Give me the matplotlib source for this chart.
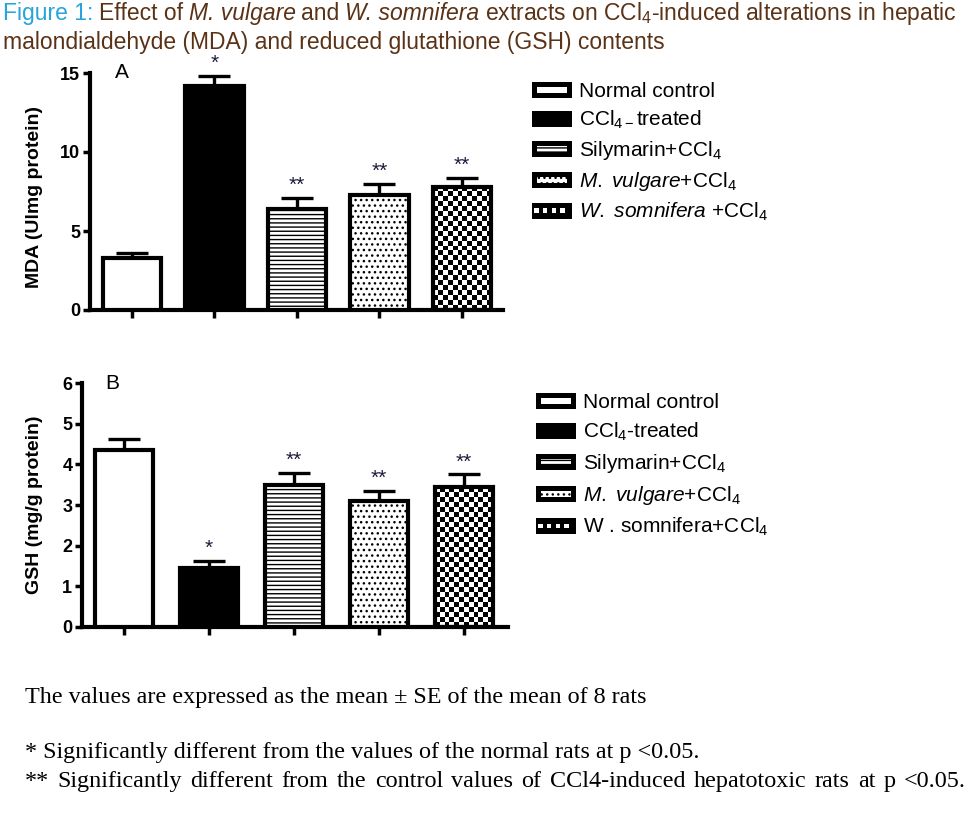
import matplotlib
matplotlib.use("Agg")
import matplotlib.pyplot as plt
import numpy as np
from matplotlib.patches import Rectangle
from matplotlib.legend_handler import HandlerBase
from matplotlib.offsetbox import TextArea, HPacker, VPacker, AnchoredOffsetbox

# ---------------- data ----------------
groups = ["Normal control", "CCl4-treated", "Silymarin+CCl4",
          "M. vulgare+CCl4", "W. somnifera+CCl4"]
mda_mean = [3.3, 14.2, 6.4, 7.3, 7.8]
mda_se = [0.28, 0.62, 0.72, 0.68, 0.56]
mda_sig = ["", "*", "**", "**", "**"]
gsh_mean = [4.35, 1.45, 3.5, 3.1, 3.45]
gsh_se = [0.28, 0.17, 0.29, 0.25, 0.31]
gsh_sig = ["", "*", "**", "**", "**"]
mda_ticks = [0, 5, 10, 15]
gsh_ticks = [0, 1, 2, 3, 4, 5, 6]
legend_a = ["Normal control", "CCl$_{4-}$treated", "Silymarin+CCl$_4$",
            "$\\mathit{M.\\ vulgare}$+CCl$_4$", "$\\mathit{W.\\ somnifera}$ +CCl$_4$"]
legend_b = ["Normal control", "CCl$_4$-treated", "Silymarin+CCl$_4$",
            "$\\mathit{M.\\ vulgare}$+CCl$_4$", "W . somnifera+CCl$_4$"]

plt.rcParams.update({
    "font.family": ["Liberation Sans", "DejaVu Sans"],
    "mathtext.fontset": "custom",
    "mathtext.rm": "Liberation Sans",
    "mathtext.it": "Liberation Sans:italic",
    "mathtext.bf": "Liberation Sans:bold",
    "hatch.linewidth": 1.0,
})

W, H = 977, 814
fig = plt.figure(figsize=(W / 100, H / 100), dpi=100)

facecolors = ["white", "black", "white", "white", "none"]
hatches = [None, None, "----", "...", None]


class HandlerChecker(HandlerBase):
    def create_artists(self, legend, orig_handle, xdescent, ydescent,
                       width, height, fontsize, trans):
        x0, y0 = -xdescent, -ydescent
        arts = [Rectangle((x0, y0), width, height, facecolor="black",
                          edgecolor="black", lw=3.6, transform=trans)]
        sq = height * 0.4
        ys = y0 + (height - sq) / 2
        n = int(width / sq)
        for k in range(n):
            if k % 2 == 0:
                arts.append(Rectangle((x0 + k * sq + (width - n * sq) / 2, ys), sq, sq,
                                      facecolor="white", lw=0, transform=trans))
        return arts


def panel(rect, means, ses, sig, ticks, ylabel, letter, letter_x, lab_x, lab_y,
          xlim, bw, legend_labels, leg_anchor, cell_px, lspace):
    ax = fig.add_axes(rect)
    x = np.arange(len(means))
    ax.set_xlim(*xlim)
    ax.set_ylim(ticks[0], ticks[-1])
    ax.errorbar(x, means, yerr=[np.zeros(len(means)), ses], fmt="none",
                ecolor="black", elinewidth=2.4, capsize=11.5, capthick=2.4, zorder=1)
    bars = []
    for i in range(len(means)):
        b = ax.bar(x[i], means[i], width=bw, facecolor=facecolors[i],
                   edgecolor="black", linewidth=3, hatch=hatches[i], zorder=3)[0]
        bars.append(b)
    # checkerboard fill for the last bar
    b = bars[-1]
    x0, wdt, hgt = b.get_x(), b.get_width(), b.get_height()
    p0 = ax.transData.transform((x0, 0))
    p1 = ax.transData.transform((x0 + wdt, hgt))
    nx = max(1, int(round((p1[0] - p0[0]) / cell_px)))
    ny = max(1, int(round((p1[1] - p0[1]) / cell_px)))
    chk = (np.add.outer(np.arange(ny), np.arange(nx)) % 2).astype(float)
    im = ax.imshow(chk, cmap="gray", extent=(x0, x0 + wdt, 0, hgt), aspect="auto",
                   interpolation="nearest", zorder=2, origin="lower")
    im.set_clip_path(b)
    ax.set_xlim(*xlim)
    ax.set_ylim(ticks[0], ticks[-1])

    for i in range(len(means)):
        if sig[i]:
            ax.annotate(sig[i], xy=(x[i], means[i] + ses[i]), xytext=(0, 2),
                        textcoords="offset points", ha="center", va="bottom",
                        fontsize=15, color="#1c1c3c")

    for s in ["top", "right"]:
        ax.spines[s].set_visible(False)
    for s in ["left", "bottom"]:
        ax.spines[s].set_linewidth(3)
    ax.set_yticks(ticks)
    ax.set_yticklabels([str(t) for t in ticks], fontsize=13, fontweight="bold")
    ax.set_xticks(x)
    ax.set_xticklabels([])
    ax.tick_params(axis="y", direction="out", length=5, width=2.5, pad=2)
    ax.tick_params(axis="x", direction="out", length=6, width=2.5)
    ax.set_ylabel(ylabel, fontsize=14, fontweight="bold")
    ax.yaxis.set_label_coords(lab_x, lab_y)
    ax.text(letter_x, 1.0, letter, transform=ax.transAxes, fontsize=15,
            ha="center", va="center")

    handles = []
    for i in range(len(means)):
        if i == len(means) - 1:
            handles.append(Rectangle((0, 0), 1, 1, facecolor="black"))
        else:
            handles.append(Rectangle((0, 0), 1, 1, facecolor=facecolors[i] if facecolors[i] != "none" else "white",
                                     edgecolor="black", lw=3.6, hatch=hatches[i]))
    fig.legend(handles, legend_labels, loc="upper left",
               bbox_to_anchor=(leg_anchor[0] / W, 1 - leg_anchor[1] / H),
               frameon=False, fontsize=15, handlelength=1.7, handleheight=0.43,
               handletextpad=0.45, labelspacing=lspace, borderpad=0, borderaxespad=0,
               handler_map={handles[-1]: HandlerChecker()})
    return ax


panel([90 / W, 1 - 310 / H, 413 / W, 237 / H], mda_mean, mda_se, mda_sig, mda_ticks,
      "MDA (Ulmg protein)", "A", 0.077, -0.114, 0.475, (-0.51, 4.5), 0.71,
      legend_a, (534, 82), 5, 0.38)
panel([82 / W, 1 - 626.7 / H, 426 / W, 243.4 / H], gsh_mean, gsh_se, gsh_sig, gsh_ticks,
      "GSH (mg/g protein)", "B", 0.07, -0.092, 0.5, (-0.49, 4.52), 0.68,
      legend_b, (538, 393), 5, 0.43)

# ---------------- title ----------------
blue = "#27a4dc"
brown = "#5a3216"
tfam = ["Liberation Sans", "DejaVu Sans"]
tsize = 16.5
def ta(s, color=brown, style="normal"):
    return TextArea(s, textprops=dict(color=color, fontsize=tsize, family=tfam, style=style))

line1 = HPacker(children=[ta("Figure 1:", blue), ta("Effect of"), ta("M. vulgare", style="italic"),
                          ta("and"), ta("W. somnifera", style="italic"),
                          ta("extracts on CCl$_4$-induced alterations in hepatic")],
                align="baseline", pad=0, sep=4)
line2 = HPacker(children=[ta("malondialdehyde (MDA) and reduced glutathione (GSH) contents")],
                align="baseline", pad=0, sep=0)
title = VPacker(children=[line1, line2], align="left", pad=0, sep=3)
ab = AnchoredOffsetbox(loc="upper left", child=title, pad=0, borderpad=0, frameon=False,
                       bbox_to_anchor=(3 / W, 1 - 0 / H), bbox_transform=fig.transFigure)
fig.add_artist(ab)

# ---------------- notes ----------------
serif = ["Liberation Serif", "DejaVu Serif"]
nsize = 17.4
fig.text(25 / W, 1 - 703 / H, "The values are expressed as the mean \u00b1 SE of the mean of 8 rats",
         family=serif, fontsize=nsize, va="baseline")
fig.text(25 / W, 1 - 758 / H, "* Significantly different from the values of the normal rats at p <0.05.",
         family=serif, fontsize=nsize, va="baseline")
# justified last line: words placed one by one
note3 = "** Significantly different from the control values of CCl4-induced hepatotoxic rats at p <0.05."
renderer = fig.canvas.get_renderer()
wtexts = [fig.text(0, 1 - 787 / H, wd, family=serif, fontsize=nsize, va="baseline")
          for wd in note3.split(" ")]
widths = [t.get_window_extent(renderer).width for t in wtexts]
left_px, right_px = 25, 966
gap = (right_px - left_px - sum(widths)) / (len(widths) - 1)
xpos = left_px
for t, wd in zip(wtexts, widths):
    t.set_x(xpos / W)
    xpos += wd + gap

fig.savefig("out.png", dpi=100)
